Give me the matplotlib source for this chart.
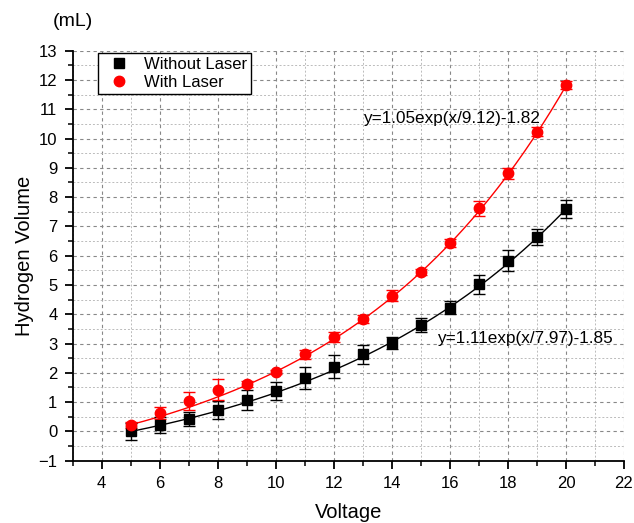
import numpy as np
import matplotlib
matplotlib.use("Agg")
import matplotlib.pyplot as plt
from matplotlib.ticker import MultipleLocator
from matplotlib.lines import Line2D

plt.rcParams['font.family'] = ['Liberation Sans', 'DejaVu Sans']

voltage = [5, 6, 7, 8, 9, 10, 11, 12, 13, 14, 15, 16, 17, 18, 19, 20]
without_laser = [0.0, 0.22, 0.43, 0.73, 1.07, 1.38, 1.82, 2.21, 2.63, 3.03, 3.63, 4.23, 5.02, 5.83, 6.63, 7.6]
without_err = [0.28, 0.27, 0.24, 0.31, 0.34, 0.32, 0.38, 0.39, 0.32, 0.21, 0.24, 0.21, 0.32, 0.35, 0.28, 0.3]
with_laser = [0.22, 0.63, 1.04, 1.43, 1.63, 2.02, 2.63, 3.24, 3.83, 4.64, 5.43, 6.44, 7.62, 8.81, 10.23, 11.83]
with_err = [0.1, 0.2, 0.3, 0.37, 0.1, 0.07, 0.16, 0.17, 0.14, 0.2, 0.1, 0.14, 0.26, 0.2, 0.15, 0.15]

# fit parameters (a, t, c) for y = a*exp(x/t) + c
fit_without = (1.05, 9.12, -1.82)
fit_with = (1.11, 7.97, -1.85)
label_without_fit = "y=1.05exp(x/9.12)-1.82"
label_with_fit = "y=1.11exp(x/7.97)-1.85"

fig = plt.figure(figsize=(6.34, 5.23), dpi=100)
ax = fig.add_axes([72.7 / 634, 1 - 460.7 / 523, 551.3 / 634, 410 / 523])

xs = np.linspace(voltage[0], voltage[-1], 200)
a, t, c = fit_without
ax.plot(xs, a * np.exp(xs / t) + c, color='black', lw=1.0, zorder=3)
a, t, c = fit_with
ax.plot(xs, a * np.exp(xs / t) + c, color='red', lw=1.0, zorder=3)

ax.errorbar(voltage, without_laser, yerr=without_err, fmt='s', color='black',
            ms=7, capsize=4, elinewidth=1, capthick=1, zorder=4)
ax.errorbar(voltage, with_laser, yerr=with_err, fmt='o', color='red',
            ecolor='red', ms=7.5, capsize=4, elinewidth=1, capthick=1, zorder=4)

ax.set_xlim(3, 22)
ax.set_ylim(-1, 13)
ax.xaxis.set_major_locator(MultipleLocator(2))
ax.xaxis.set_minor_locator(MultipleLocator(1))
ax.yaxis.set_major_locator(MultipleLocator(1))
ax.yaxis.set_minor_locator(MultipleLocator(0.5))
ax.set_xticks(np.arange(4, 23, 2))

ax.grid(which='major', color='#888888', linestyle=(0, (3, 3)), lw=0.8)
ax.grid(which='minor', color='#bbbbbb', linestyle=(0, (2, 2)), lw=0.7)
ax.set_axisbelow(True)

for s in ['top', 'right']:
    ax.spines[s].set_visible(False)
for s in ['left', 'bottom']:
    ax.spines[s].set_linewidth(1.3)

ax.tick_params(which='major', direction='out', length=6, width=1.3, labelsize=12, pad=5)
ax.tick_params(which='minor', direction='out', length=3.5, width=1.1)

ax.set_xlabel('Voltage', fontsize=14.5, labelpad=9)
ax.set_ylabel('Hydrogen Volume', fontsize=14.5, labelpad=3)
fig.text(73 / 634, 1 - 21 / 523, '(mL)', fontsize=14, ha='center', va='center')

ax.text(13.0, 10.68, label_without_fit, fontsize=12.3, ha='left', va='center')
ax.text(15.55, 3.17, label_with_fit, fontsize=12.3, ha='left', va='center')

handles = [Line2D([], [], marker='s', color='black', ls='none', ms=7),
           Line2D([], [], marker='o', color='red', ls='none', ms=7.5)]
leg = fig.legend(handles, ['Without Laser', 'With Laser'], loc='upper left',
                 bbox_to_anchor=(98 / 634, 1 - 53 / 523), fontsize=12,
                 frameon=True, fancybox=False, edgecolor='black', framealpha=1,
                 handletextpad=0.5, borderpad=0.25, labelspacing=0.15,
                 handlelength=2.0, borderaxespad=0)
leg.get_frame().set_linewidth(1.0)

fig.savefig('out.png', dpi=100)
